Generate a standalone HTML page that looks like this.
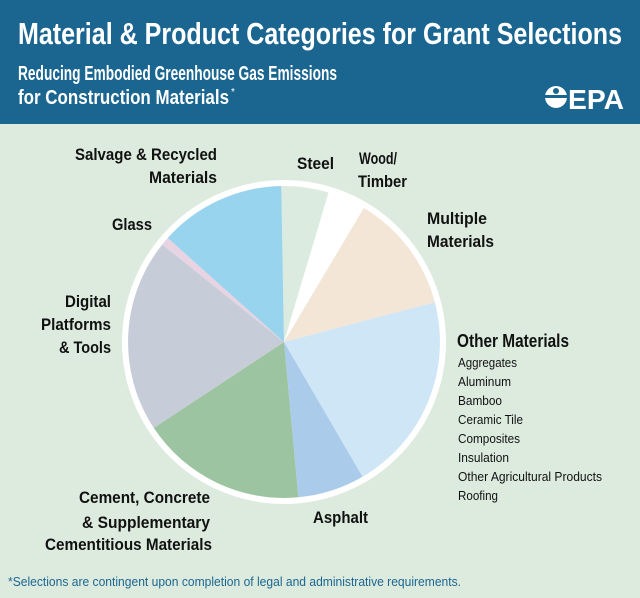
<!DOCTYPE html>
<html><head><meta charset="utf-8"><style>
html,body{margin:0;padding:0;width:640px;height:598px;overflow:hidden;background:#ddebdf}
svg{display:block}
text{font-family:"Liberation Sans Narrow","Liberation Sans",sans-serif;fill:#111}
.b{font-weight:bold}
</style></head><body>
<svg width="640" height="598" viewBox="0 0 640 598">
<rect width="640" height="598" fill="#ddebdf"/>
<rect width="640" height="124" fill="#1b6690"/>
<text x="18" y="44" font-size="31" style="fill:#fff" class="b" textLength="604" lengthAdjust="spacingAndGlyphs">Material &amp; Product Categories for Grant Selections</text>
<text x="18" y="80" font-size="20" style="fill:#fff" class="b" textLength="319" lengthAdjust="spacingAndGlyphs">Reducing Embodied Greenhouse Gas Emissions</text>
<text x="18" y="104" font-size="20" style="fill:#fff" class="b" textLength="211" lengthAdjust="spacingAndGlyphs">for Construction Materials</text>
<text x="231" y="95" font-size="10" style="fill:#fff">*</text>
<g fill="#fff">
<circle cx="556" cy="97" r="11"/>
<rect x="544" y="95" width="24" height="3" fill="#1b6690"/>
<circle cx="556" cy="91" r="3" fill="#1b6690"/>
</g>
<text x="568" y="109" font-size="28" style="fill:#fff" class="b" textLength="56" lengthAdjust="spacingAndGlyphs">EPA</text>

<circle cx="284" cy="342" r="162" fill="#fff"/>
<g>
<path d="M284,342 L281.3,186 A156,156 0 0 1 328.6,192.5Z" fill="#dcebdf"/>
<path d="M284,342 L328.6,192.5 A156,156 0 0 1 363.9,208Z" fill="#ffffff"/>
<path d="M284,342 L363.9,208 A156,156 0 0 1 434.8,302.2Z" fill="#f3e6d6"/>
<path d="M284,342 L434.8,302.2 A156,156 0 0 1 362.5,476.8Z" fill="#cfe6f7"/>
<path d="M284,342 L362.5,476.8 A156,156 0 0 1 298.4,497.3Z" fill="#abcbea"/>
<path d="M284,342 L298.4,497.3 A156,156 0 0 1 153.8,427.9Z" fill="#9dc4a0"/>
<path d="M284,342 L153.8,427.9 A156,156 0 0 1 162.3,244.5Z" fill="#c6cdd8"/>
<path d="M284,342 L162.3,244.5 A156,156 0 0 1 167.7,238Z" fill="#e8d3e3"/>
<path d="M284,342 L167.7,238 A156,156 0 0 1 281.3,186Z" fill="#98d4ee"/>
</g>

<g class="b" font-size="17">
<text x="75" y="160" class="b" textLength="142" lengthAdjust="spacingAndGlyphs">Salvage &amp; Recycled</text>
<text x="149" y="183" class="b" textLength="68" lengthAdjust="spacingAndGlyphs">Materials</text>
<text x="297" y="169" class="b" textLength="37" lengthAdjust="spacingAndGlyphs">Steel</text>
<text x="359" y="164" class="b" textLength="38" lengthAdjust="spacingAndGlyphs">Wood/</text>
<text x="358" y="187" class="b" textLength="49" lengthAdjust="spacingAndGlyphs">Timber</text>
<text x="427" y="224" class="b" textLength="60" lengthAdjust="spacingAndGlyphs">Multiple</text>
<text x="427" y="247" class="b" textLength="67" lengthAdjust="spacingAndGlyphs">Materials</text>
<text x="112" y="230" class="b" textLength="40" lengthAdjust="spacingAndGlyphs">Glass</text>
<text x="65" y="307" class="b" textLength="46" lengthAdjust="spacingAndGlyphs">Digital</text>
<text x="41" y="330" class="b" textLength="70" lengthAdjust="spacingAndGlyphs">Platforms</text>
<text x="59" y="353" class="b" textLength="52" lengthAdjust="spacingAndGlyphs">&amp; Tools</text>
<text x="313" y="523" class="b" textLength="55" lengthAdjust="spacingAndGlyphs">Asphalt</text>
<text x="79" y="503" class="b" textLength="131" lengthAdjust="spacingAndGlyphs">Cement, Concrete</text>
<text x="82" y="528" class="b" textLength="128" lengthAdjust="spacingAndGlyphs">&amp; Supplementary</text>
<text x="45" y="550" class="b" textLength="167" lengthAdjust="spacingAndGlyphs">Cementitious Materials</text>
<text x="457" y="347" font-size="18" class="b" textLength="112" lengthAdjust="spacingAndGlyphs">Other Materials</text>
</g>
<g font-size="13">
<text x="458" y="367" textLength="59" lengthAdjust="spacingAndGlyphs">Aggregates</text>
<text x="458" y="386" textLength="53" lengthAdjust="spacingAndGlyphs">Aluminum</text>
<text x="458" y="405" textLength="44" lengthAdjust="spacingAndGlyphs">Bamboo</text>
<text x="458" y="424" textLength="65" lengthAdjust="spacingAndGlyphs">Ceramic Tile</text>
<text x="458" y="443" textLength="62" lengthAdjust="spacingAndGlyphs">Composites</text>
<text x="458" y="462" textLength="51" lengthAdjust="spacingAndGlyphs">Insulation</text>
<text x="458" y="481" textLength="144" lengthAdjust="spacingAndGlyphs">Other Agricultural Products</text>
<text x="458" y="500" textLength="40" lengthAdjust="spacingAndGlyphs">Roofing</text>
</g>
<text x="8" y="586" font-size="13" style="fill:#1b6690" textLength="453" lengthAdjust="spacingAndGlyphs">*Selections are contingent upon completion of legal and administrative requirements.</text>
</svg>
</body></html>
